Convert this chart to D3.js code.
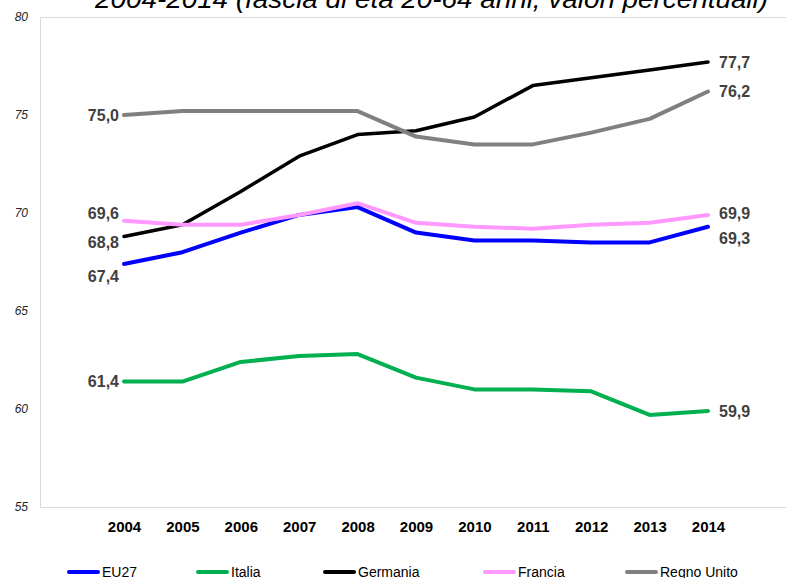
<!DOCTYPE html>
<html>
<head>
<meta charset="utf-8">
<script src="https://cdn.jsdelivr.net/npm/d3@7"></script>
<style>
  html, body { margin: 0; padding: 0; background: #fff; }
  svg { display: block; }
</style>
</head>
<body>
<svg id="chart" width="786" height="578"></svg>
<script>
const years = ["2004","2005","2006","2007","2008","2009","2010","2011","2012","2013","2014"];
const seriesNames = ["EU27","Italia","Germania","Francia","Regno Unito"];
const eu27      = [67.4, 68.0, 69.0, 69.9, 70.3, 69.0, 68.6, 68.6, 68.5, 68.5, 69.3];
const italia    = [61.4, 61.4, 62.4, 62.7, 62.8, 61.6, 61.0, 61.0, 60.9, 59.7, 59.9];
const germania  = [68.8, 69.4, 71.1, 72.9, 74.0, 74.2, 74.9, 76.5, 76.9, 77.3, 77.7];
const francia   = [69.6, 69.4, 69.4, 69.9, 70.5, 69.5, 69.3, 69.2, 69.4, 69.5, 69.9];
const regnoUnito= [75.0, 75.2, 75.2, 75.2, 75.2, 73.9, 73.5, 73.5, 74.1, 74.8, 76.2];
const yTicks = [55, 60, 65, 70, 75, 80];
const title = "2004-2014 (fascia di età 20-64 anni, valori percentuali)";

const colors = ["#0000ff", "#00b050", "#000000", "#ff99ff", "#808080"];
const widths = [4, 4, 3.5, 4, 4];
// label offsets (dy) for first and last point, per series
const firstDy = [12, 0, 6, -7, 0];
const lastDy  = [12, 0, 0, -2, 0];

const allSeries = [eu27, italia, germania, francia, regnoUnito];

const svg = d3.select("#chart");
const x = d3.scalePoint().domain(years).range([124, 708]);
const y = d3.scaleLinear().domain([55, 80]).range([507, 17]);

// title
svg.append("text")
  .attr("x", 95).attr("y", 8)
  .attr("text-anchor", "start")
  .attr("textLength", 673)
  .attr("lengthAdjust", "spacingAndGlyphs")
  .style("font-family", "'Liberation Sans', Arial, sans-serif")
  .style("font-style", "italic")
  .style("font-size", "26px")
  .attr("fill", "#000")
  .text(title);

// plot border
svg.append("rect")
  .attr("x", 40.5).attr("y", 17.5)
  .attr("width", 800).attr("height", 490)
  .attr("fill", "none")
  .attr("stroke", "#d9d9d9")
  .attr("stroke-width", 1);

// y axis labels
const yAxis = d3.axisLeft(y).tickValues(yTicks).tickSize(0).tickPadding(0).tickFormat(d3.format("d"));
const gy = svg.append("g").attr("transform", "translate(28,0)").call(yAxis);
gy.select(".domain").remove();
gy.selectAll("text")
  .style("font-family", "'Liberation Sans', Arial, sans-serif")
  .style("font-style", "italic")
  .style("font-size", "12px")
  .attr("fill", "#262626");

// x axis labels
const xAxis = d3.axisBottom(x).tickSize(0).tickPadding(0);
const gx = svg.append("g").attr("transform", "translate(0,521)").call(xAxis);
gx.select(".domain").remove();
gx.selectAll("text")
  .style("font-family", "'Liberation Sans', Arial, sans-serif")
  .style("font-weight", "bold")
  .style("font-size", "15px")
  .attr("fill", "#000");

// lines
const line = d3.line().x((d, i) => x(years[i])).y(d => y(d));
allSeries.forEach((vals, s) => {
  svg.append("path")
    .datum(vals)
    .attr("d", line)
    .attr("fill", "none")
    .attr("stroke", colors[s])
    .attr("stroke-width", widths[s])
    .attr("stroke-linejoin", "round")
    .attr("stroke-linecap", "round");
});

// data labels
const fmt = v => d3.format(".1f")(v).replace(".", ",");
allSeries.forEach((vals, s) => {
  const n = vals.length - 1;
  svg.append("text")
    .attr("x", x(years[0]) - 5)
    .attr("y", y(vals[0]) + firstDy[s])
    .attr("dy", "0.35em")
    .attr("text-anchor", "end")
    .style("font-family", "'Liberation Sans', Arial, sans-serif")
    .style("font-weight", "bold")
    .style("font-size", "16px")
    .attr("fill", "#404040")
    .text(fmt(vals[0]));
  svg.append("text")
    .attr("x", x(years[n]) + 11)
    .attr("y", y(vals[n]) + lastDy[s])
    .attr("dy", "0.35em")
    .attr("text-anchor", "start")
    .style("font-family", "'Liberation Sans', Arial, sans-serif")
    .style("font-weight", "bold")
    .style("font-size", "16px")
    .attr("fill", "#404040")
    .text(fmt(vals[n]));
});

// legend
const legendX = [69, 198, 325, 485, 627];
const lg = svg.append("g").attr("transform", "translate(0,572)");
seriesNames.forEach((name, s) => {
  lg.append("line")
    .attr("x1", legendX[s]).attr("x2", legendX[s] + 29)
    .attr("y1", 0).attr("y2", 0)
    .attr("stroke", colors[s])
    .attr("stroke-width", 4)
    .attr("stroke-linecap", "round");
  lg.append("text")
    .attr("x", legendX[s] + 33)
    .attr("y", 0)
    .attr("dy", "0.35em")
    .style("font-family", "'Liberation Sans', Arial, sans-serif")
    .style("font-size", "14px")
    .attr("fill", "#000")
    .text(name);
});
</script>
</body>
</html>
